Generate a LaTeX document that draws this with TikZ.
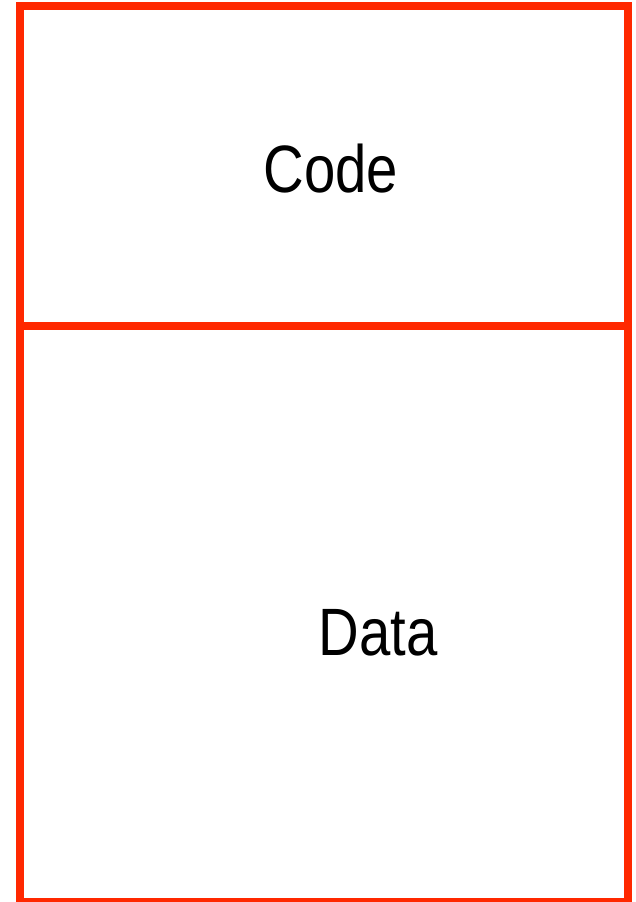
\documentclass[tikz,border=0pt]{standalone}
\usepackage{fontspec}
\newfontfamily\lblfont[FakeStretch=0.84]{Liberation Sans}
\definecolor{boxred}{RGB}{255,40,0}
\tikzset{
  region/.style={draw=boxred, line width=8pt, rectangle, inner sep=0pt, line join=miter},
  lbl/.style={font=\lblfont\fontsize{67}{80}\selectfont, text=black, anchor=base, inner sep=0pt}
}
\begin{document}
\begin{tikzpicture}[x=1pt,y=-1pt]
\useasboundingbox (0,0) rectangle (635,902);
\node[region, minimum width=608pt, minimum height=320pt] (code) at (324,166) {};
\node[region, minimum width=608pt, minimum height=576pt] (data) at (324,614) {};
\node[lbl] (codelbl) at (331,192) {Code};
\node[lbl] (datalbl) at (378,655) {Data};
\end{tikzpicture}
\end{document}
